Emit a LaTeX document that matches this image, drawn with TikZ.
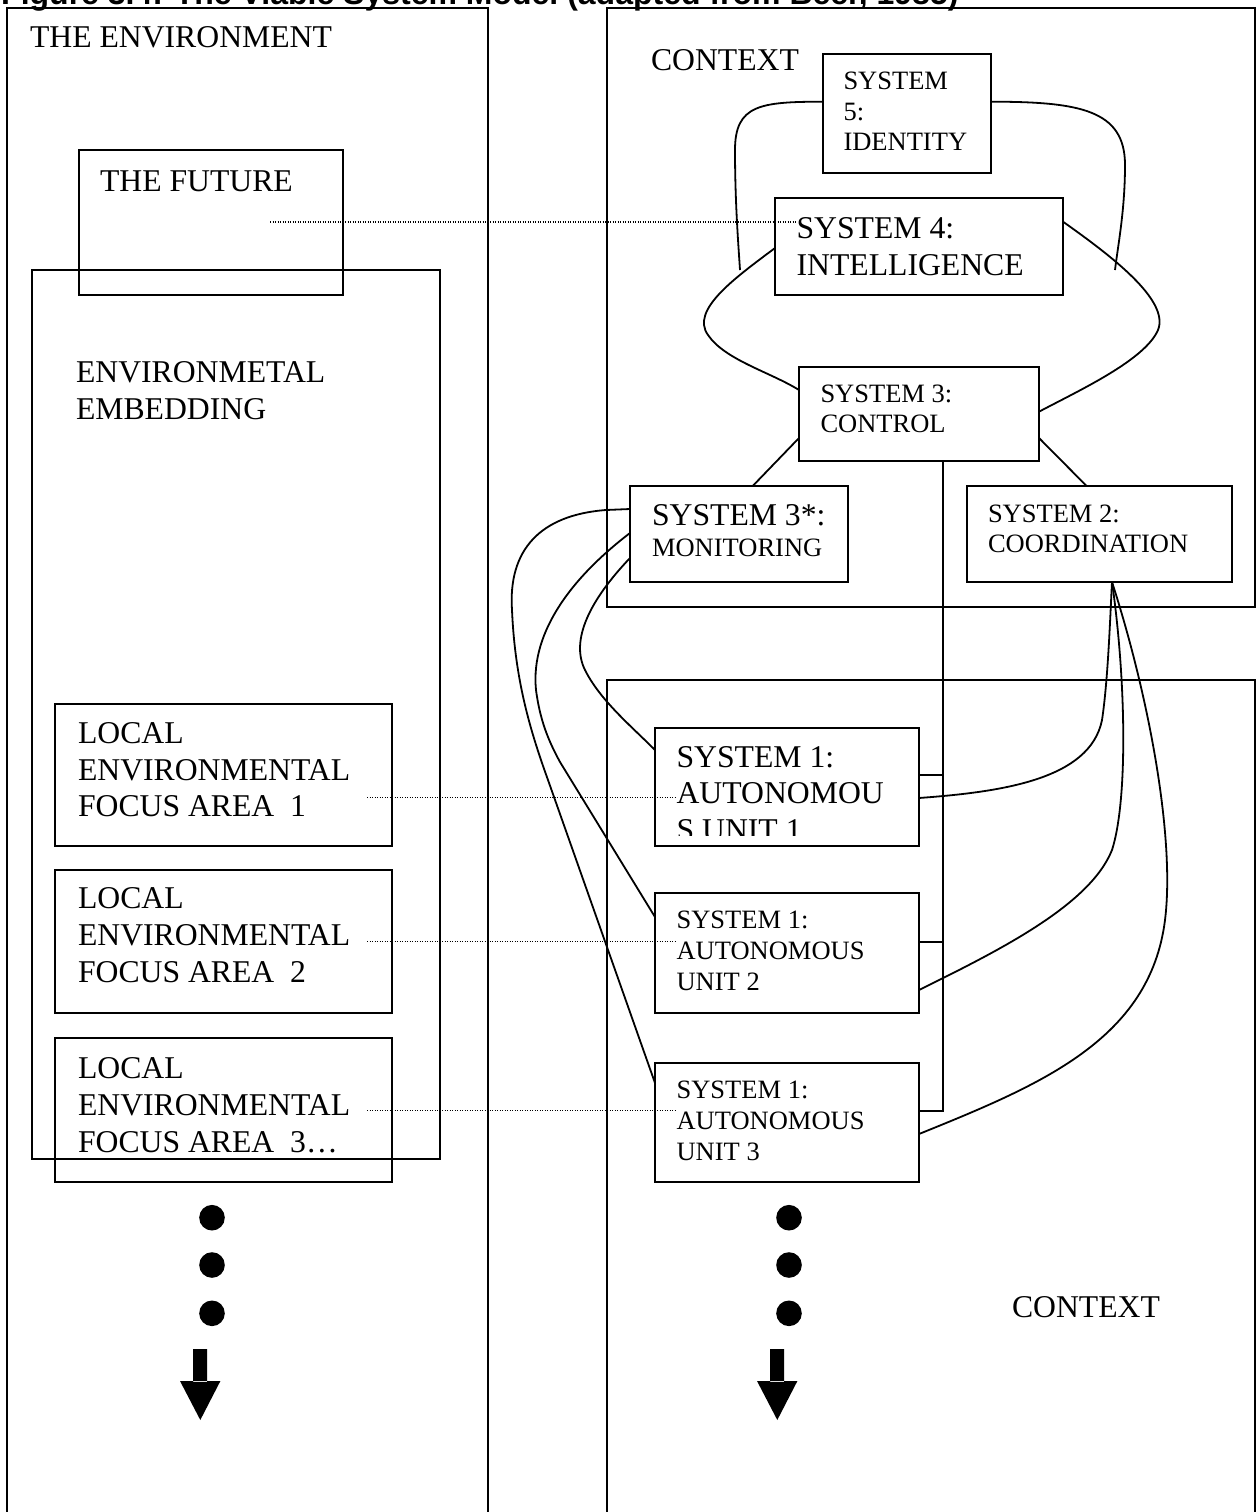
\documentclass[tikz,border=0pt]{standalone}
\usepackage{fontspec}
\setmainfont{Liberation Serif}
\newfontfamily\titlefont{Liberation Sans}
\usetikzlibrary{calc}
\newcommand\fontL{\fontsize{31.7}{36.7}\selectfont}
\newcommand\fontS{\fontsize{26.5}{30.7}\selectfont}

\begin{document}
\begin{tikzpicture}[x=1pt,y=-1pt,
  frame/.style={line width=1.8pt},
  box/.style={draw, line width=2.4pt, inner sep=0pt, outer sep=0pt, anchor=north west},
  lbl/.style={inner sep=0pt, outer sep=0pt, anchor=north west, align=left},
  link/.style={line width=1.8pt},
  dotline/.style={line width=1.1pt, dash pattern=on 1.4pt off 1.1pt},
  dot/.style={fill=black, circle, inner sep=0pt, minimum size=25.6pt},
]
\useasboundingbox (0,0) rectangle (1256,1512);
\clip (0,0) rectangle (1256,1512);

% caption line, cut by the top edge
\node[anchor=base west, inner sep=0pt, font=\titlefont\bfseries\fontsize{32}{36}\selectfont] (title) at (1,5)
  {Figure 3.4: The Viable System Model (adapted from Beer, 1985)};

% outer frames
\draw[frame] (7,1530) -- (7,8) -- (488,8) -- (488,1530);
\draw[frame] (607,8) rectangle (1255,607);
\draw[frame] (607,1530) -- (607,680) -- (1255,680) -- (1255,1530);

\node[lbl, font=\fontL] (envt) at (30,26.3) {THE ENVIRONMENT};
\node[lbl, font=\fontL] (ctxtop) at (651,49.6) {CONTEXT};
\node[lbl, font=\fontL] (ctxbot) at (1012,1296.3) {CONTEXT};

% environment side
\node[box, minimum width=264pt, minimum height=145pt] (future) at (79,150) {};
\node[lbl, font=\fontL] (futuret) at (100,170.6) {THE FUTURE};
\node[box, minimum width=408pt, minimum height=889pt] (embed) at (32,270) {};
\node[lbl, font=\fontL] (embedt) at (76,361.6) {ENVIRONMETAL\\EMBEDDING};

\node[box, minimum width=337pt, minimum height=142pt] (lef1) at (55,704) {};
\node[lbl, font=\fontL] (lef1t) at (78,722.6) {LOCAL\\ENVIRONMENTAL\\FOCUS AREA\ \ 1};
\node[box, minimum width=337pt, minimum height=143pt] (lef2) at (55,870) {};
\node[lbl, font=\fontL] (lef2t) at (78,887.9) {LOCAL\\ENVIRONMENTAL\\FOCUS AREA\ \ 2};
\node[box, minimum width=337pt, minimum height=144pt] (lef3) at (55,1038) {};
\node[lbl, font=\fontL] (lef3t) at (78,1057.9) {LOCAL\\ENVIRONMENTAL\\FOCUS AREA\ \ 3…};

% management systems
\node[box, minimum width=168pt, minimum height=119pt] (s5) at (823,54) {};
\node[lbl, font=\fontS] (s5t) at (843.5,72) {SYSTEM\\5:\\IDENTITY};
\node[box, minimum width=288pt, minimum height=97pt] (s4) at (775,198) {};
\node[lbl, font=\fontL] (s4t) at (796.6,217.6) {SYSTEM 4:\\INTELLIGENCE};
\node[box, minimum width=240pt, minimum height=94pt] (s3) at (799,367) {};
\node[lbl, font=\fontS] (s3t) at (820.5,384.6) {SYSTEM 3:\\CONTROL};
\node[box, minimum width=218pt, minimum height=96pt] (s3m) at (630,486) {};
\node[lbl, font=\fontS] (s3mt) at (652,504.6) {{\fontL SYSTEM 3*:}\\MONITORING};
\node[box, minimum width=265pt, minimum height=96pt] (s2) at (967,486) {};
\node[lbl, font=\fontS] (s2t) at (988,504.6) {SYSTEM 2:\\COORDINATION};

% operational units
\node[box, minimum width=264pt, minimum height=118pt] (u1) at (655,728) {};
\begin{scope}
  \clip (600,700) rectangle (1000,835);
  \node[lbl, font=\fontL] (u1t) at (676.6,746.3) {SYSTEM 1:\\AUTONOMOU\\S UNIT 1};
\end{scope}
\node[box, minimum width=264pt, minimum height=120pt] (u2) at (655,893) {};
\node[lbl, font=\fontS] (u2t) at (676.6,911.3) {SYSTEM 1:\\AUTONOMOUS\\UNIT 2};
\node[box, minimum width=264pt, minimum height=119pt] (u3) at (655,1063) {};
\node[lbl, font=\fontS] (u3t) at (676.6,1081.3) {SYSTEM 1:\\AUTONOMOUS\\UNIT 3};

% dotted correspondences between environment and system
\coordinate (futdot) at (270,222);
\coordinate (lef1dot) at (367,797.7);
\coordinate (lef2dot) at (367,941.7);
\coordinate (lef3dot) at (367,1110.7);
\draw[dotline] (futdot) -- (s4t.west |- futdot);
\draw[dotline] (lef1dot) -- (u1t.west |- lef1dot);
\draw[dotline] (lef2dot) -- (u2t.west |- lef2dot);
\draw[dotline] (lef3dot) -- (u3t.west |- lef3dot);

% loops around systems 5, 4 and 3
\coordinate (l5end) at (740,270);
\coordinate (r5end) at (1115,270);
\draw[link] ($(s5.north west)+(0,47.7)$) .. controls (760,101.7) and (735,105) .. (735,150)
  .. controls (735,200) and (738,240) .. (l5end);
\draw[link] ($(s5.north east)+(0,47.7)$) .. controls (1080,101.7) and (1125,110) .. (1125,165)
  .. controls (1125,210) and (1118,245) .. (r5end);
\draw[link] ($(s4.north west)+(0,50)$) .. controls (735,278) and (690,310) .. (708,335)
  .. controls (725,360) and (770,372) .. ($(s3.north west)+(0,23)$);
\draw[link] ($(s4.north east)+(0,23.7)$) .. controls (1110,255) and (1170,300) .. (1158,330)
  .. controls (1145,360) and (1080,390) .. ($(s3.north east)+(0,44.7)$);

% system 3 to 3* and 2
\draw[link] ($(s3.north west)+(0,71)$) -- ($(s3m.north west)+(122.7,0)$);
\draw[link] ($(s3.north east)+(0,71)$) -- ($(s2.north west)+(119.6,0)$);

% command channel from system 3 to the units
\draw[link] ($(s3.south west)+(144,0)$) -- (943,1111) -- ($(u3.north east)+(0,48)$);
\draw[link] ($(u1.north east)+(0,47)$) -- (943,775);
\draw[link] ($(u2.north east)+(0,48.7)$) -- (943,941.7);

% monitoring channels
\draw[link] ($(s3m.north west)+(0,72)$) .. controls (590,600) and (570,640) .. (585,670)
  .. controls (600,700) and (630,725) .. ($(u1.north west)+(0,22)$);
\draw[link] ($(s3m.north west)+(0,47)$) .. controls (575,575) and (530,630) .. (536,690)
  .. controls (540,720) and (548,740) .. (560,762) -- ($(u2.north west)+(0,24)$);
\draw[link] ($(s3m.north west)+(0,23)$) -- (606,510) .. controls (540,515) and (508,550) .. (512,610)
  .. controls (515,680) and (530,730) .. (548,780) -- ($(u3.north west)+(0,20)$);

% coordination channels
\draw[link] ($(u1.north east)+(0,70)$) .. controls (1000,792) and (1090,780) .. (1102,720)
  .. controls (1108,680) and (1110,620) .. ($(s2.south west)+(145,0)$);
\draw[link] ($(u2.north east)+(0,97)$) .. controls (1000,950) and (1090,905) .. (1112,850)
  .. controls (1128,800) and (1126,680) .. ($(s2.south west)+(145,0)$);
\draw[link] ($(u3.north east)+(0,71)$) .. controls (1040,1085) and (1150,1040) .. (1165,920)
  .. controls (1175,840) and (1150,700) .. ($(s2.south west)+(145,0)$);

% continuation marks
\node[dot] (ld1) at (212,1217.7) {};
\node[dot] (ld2) at (212,1265) {};
\node[dot] (ld3) at (212,1313.3) {};
\node[dot] (rd1) at (789,1217.7) {};
\node[dot] (rd2) at (789,1265) {};
\node[dot] (rd3) at (789,1313.3) {};
\fill (193,1349) rectangle (207,1382) (180,1381) -- (220.4,1381) -- (200.3,1420) -- cycle;
\fill (770,1349) rectangle (784,1382) (757,1381) -- (797.4,1381) -- (777.3,1420) -- cycle;

\end{tikzpicture}
\end{document}
